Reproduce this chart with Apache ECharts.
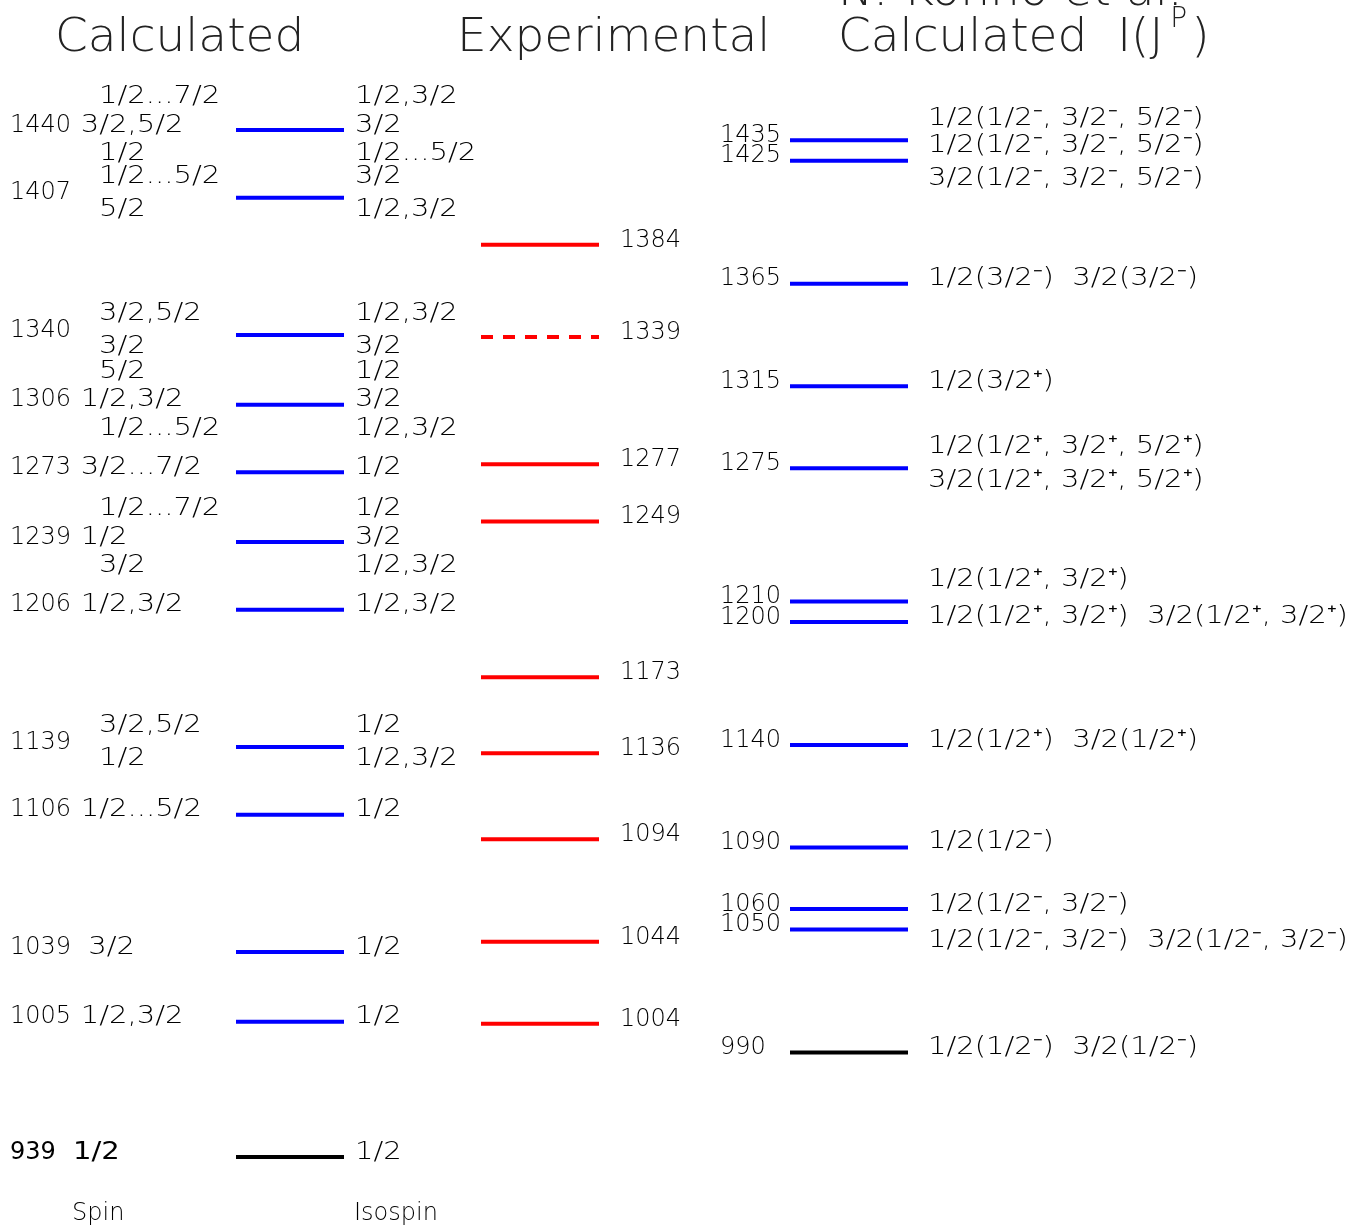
<!DOCTYPE html>
<html>
<head>
<meta charset="utf-8">
<script src="https://cdn.jsdelivr.net/npm/echarts@6/dist/echarts.min.js"></script>
<style>
html,body{margin:0;padding:0;background:#fff;}
#c{width:1362px;height:1226px;}
</style>
</head>
<body>
<div id="c"></div>
<script>
// ---------------- DATA ----------------
// Calculated levels (MeV) with spin and isospin labels (listed top to bottom)
const calcLevels = [939, 1005, 1039, 1106, 1139, 1206, 1239, 1273, 1306, 1340, 1407, 1440];
const calcSpin = [
  ['1/2'], ['1/2,3/2'], ['3/2'], ['1/2...5/2'], ['3/2,5/2', '1/2'], ['1/2,3/2'],
  ['1/2...7/2', '1/2', '3/2'], ['3/2...7/2'], ['5/2', '1/2,3/2', '1/2...5/2'],
  ['3/2,5/2', '3/2'], ['1/2...5/2', '5/2'], ['1/2...7/2', '3/2,5/2', '1/2']
];
const calcIsospin = [
  ['1/2'], ['1/2'], ['1/2'], ['1/2'], ['1/2', '1/2,3/2'], ['1/2,3/2'],
  ['1/2', '3/2', '1/2,3/2'], ['1/2'], ['1/2', '3/2', '1/2,3/2'],
  ['1/2,3/2', '3/2'], ['3/2', '1/2,3/2'], ['1/2,3/2', '3/2', '1/2...5/2']
];
const calcGround = 939;
const calcWideGap = [939, 1039];   // levels printed with a double space before the spin

// Experimental levels (MeV)
const expLevels = [1004, 1044, 1094, 1136, 1173, 1249, 1277, 1339, 1384];
const expTentative = [1339];        // drawn dashed

// N. Konno et al. calculated levels (MeV) and I(J^P) labels
const konnoLevels = [990, 1050, 1060, 1090, 1140, 1200, 1210, 1275, 1315, 1365, 1425, 1435];
const konnoGround = 990;
const konnoLabelText = [
  '1/2(1/2\u207B, 3/2\u207B, 5/2\u207B)',
  '1/2(1/2\u207B, 3/2\u207B, 5/2\u207B)',
  '3/2(1/2\u207B, 3/2\u207B, 5/2\u207B)',
  '1/2(3/2\u207B)  3/2(3/2\u207B)',
  '1/2(3/2\u207A)',
  '1/2(1/2\u207A, 3/2\u207A, 5/2\u207A)',
  '3/2(1/2\u207A, 3/2\u207A, 5/2\u207A)',
  '1/2(1/2\u207A, 3/2\u207A)',
  '1/2(1/2\u207A, 3/2\u207A)  3/2(1/2\u207A, 3/2\u207A)',
  '1/2(1/2\u207A)  3/2(1/2\u207A)',
  '1/2(1/2\u207B)',
  '1/2(1/2\u207B, 3/2\u207B)',
  '1/2(1/2\u207B, 3/2\u207B)  3/2(1/2\u207B, 3/2\u207B)',
  '1/2(1/2\u207B)  3/2(1/2\u207B)'
];
const konnoLabelLevel = [1435, 1425, 1425, 1365, 1315, 1275, 1275, 1210, 1200, 1140, 1090, 1060, 1050, 990];

const titleTexts = ['Calculated', 'Experimental', 'Calculated  I(J', 'P', ')', 'N. Konno et al.'];
const footTexts = ['Spin', 'Isospin'];

// ---------------- LAYOUT ----------------
const L = {
  calc: {x0: 236, x1: 344, numX: 10, spinX: 99, isoX: 355},
  exp: {x0: 481, x1: 599, numX: 620},
  konno: {x0: 790, x1: 908, numX: 720, labX: 928},
  textDy: -4.5,        // text centre relative to level line
  row3: 28.5,          // spacing for three stacked labels
  row2: 16.5,          // half spacing for two stacked labels
  konnoLabelDy: [-21.5, -14.5, 18.5, -4.5, -4.5, -21, 12.5, -21.5, -5.5, -4.5, -5.5, -4.5, 11.5, -4.5],
  lineWidth: 4,
  fracScale: 1.21
};
const FONT = '"DejaVu Sans ExtraLight", "DejaVu Sans", sans-serif';
const BOLDFONT = '"DejaVu Sans", sans-serif';
const THIN = '"DejaVu Sans ExtraLight", "DejaVu Sans", sans-serif';
const TXT = '#000000';
const BLUE = '#0000ff', RED = '#ff0000', BLACK = '#000000';

const measureCtx = document.createElement('canvas').getContext('2d');
function measure(text, size, family, weight) {
  measureCtx.font = (weight || 'normal') + ' ' + size + 'px ' + family;
  return measureCtx.measureText(text).width;
}

function txt(x, y, text, o) {
  o = o || {};
  return {
    type: 'text', x: x, y: y, scaleX: o.sx || 1,
    style: {
      text: text, fill: o.color || TXT, fontSize: o.size || 24,
      fontFamily: o.family || FONT, fontWeight: o.weight || 200,
      align: 'left', verticalAlign: 'middle'
    }
  };
}
function lineEl(a, b, color, dashed) {
  return {
    type: 'line',
    shape: {x1: a[0], y1: a[1], x2: b[0], y2: b[1]},
    style: {stroke: color, lineWidth: L.lineWidth, lineDash: dashed ? [12, 10] : null}
  };
}
function stackDy(n) {
  if (n === 1) return [0];
  if (n === 2) return [-L.row2, L.row2];
  return [-L.row3, 0, L.row3];
}

const calcSeries = {
  type: 'custom', coordinateSystem: 'cartesian2d', silent: true,
  data: calcLevels.map(function (v) { return [L.calc.x0, v, L.calc.x1]; }),
  encode: {x: [0, 2], y: 1},
  renderItem: function (params, api) {
    const i = params.dataIndex;
    const v = api.value(1);
    const a = api.coord([api.value(0), v]);
    const b = api.coord([api.value(2), v]);
    const ground = v === calcGround;
    const ch = [lineEl(a, b, ground ? BLACK : BLUE, false)];
    const cy = a[1] + L.textDy;
    const numText = String(v);
    const fam = ground ? BOLDFONT : FONT;
    const wt = ground ? 'normal' : 200;
    ch.push(txt(L.calc.numX, cy, numText, {family: fam, weight: wt}));
    const spins = calcSpin[i];
    const dys = stackDy(spins.length);
    const gap = calcWideGap.indexOf(v) >= 0 ? '  ' : ' ';
    const mainX = L.calc.numX + measure(numText + gap, 24, fam, wt) + 2;
    spins.forEach(function (s, k) {
      const isMain = spins.length !== 2 && dys[k] === 0;
      ch.push(txt(isMain ? mainX : L.calc.spinX, cy + dys[k], s,
        {sx: L.fracScale, family: isMain ? fam : FONT, weight: isMain ? wt : 200}));
    });
    const isos = calcIsospin[i];
    const dyi = stackDy(isos.length);
    isos.forEach(function (s, k) {
      ch.push(txt(L.calc.isoX, cy + dyi[k], s, {sx: L.fracScale}));
    });
    return {type: 'group', children: ch};
  }
};

const expSeries = {
  type: 'custom', coordinateSystem: 'cartesian2d', silent: true,
  data: expLevels.map(function (v) { return [L.exp.x0, v, L.exp.x1]; }),
  encode: {x: [0, 2], y: 1},
  renderItem: function (params, api) {
    const v = api.value(1);
    const a = api.coord([api.value(0), v]);
    const b = api.coord([api.value(2), v]);
    return {type: 'group', children: [
      lineEl(a, b, RED, expTentative.indexOf(v) >= 0),
      txt(L.exp.numX, a[1] + L.textDy, String(v))
    ]};
  }
};

const konnoSeries = {
  type: 'custom', coordinateSystem: 'cartesian2d', silent: true,
  data: konnoLevels.map(function (v) { return [L.konno.x0, v, L.konno.x1]; }),
  encode: {x: [0, 2], y: 1},
  renderItem: function (params, api) {
    const v = api.value(1);
    const a = api.coord([api.value(0), v]);
    const b = api.coord([api.value(2), v]);
    return {type: 'group', children: [
      lineEl(a, b, v === konnoGround ? BLACK : BLUE, false),
      txt(L.konno.numX, a[1] + L.textDy, String(v))
    ]};
  }
};

const konnoLabelSeries = {
  type: 'custom', coordinateSystem: 'cartesian2d', silent: true,
  data: konnoLabelLevel.map(function (v) { return [L.konno.labX, v]; }),
  encode: {x: 0, y: 1},
  renderItem: function (params, api) {
    const i = params.dataIndex;
    const p = api.coord([api.value(0), api.value(1)]);
    return txt(p[0], p[1] + L.konnoLabelDy[i], konnoLabelText[i], {sx: L.fracScale});
  }
};

// titles
const TS = 47;
const t3x = 838;
const w3 = measure(titleTexts[2], TS, THIN, 200);
const pX = t3x + w3 + 7;
const wP = measure(titleTexts[3], 28, THIN, 200);
const titleColor = '#222';
function title(x, y, text, size) {
  return {type: 'text', x: x, y: y, style: {text: text, fill: titleColor, fontSize: size, fontFamily: THIN, fontWeight: 200, verticalAlign: 'middle'}};
}
const graphic = [
  title(55, 39, titleTexts[0], TS),
  title(457, 39, titleTexts[1], TS),
  title(t3x, 39, titleTexts[2], TS),
  title(pX, 20, titleTexts[3], 28),
  title(pX + wP + 4, 39, titleTexts[4], TS),
  title(t3x, -7, titleTexts[5], TS),
  {type: 'text', x: 72, y: 1214, style: {text: footTexts[0], fill: TXT, fontSize: 24, fontFamily: FONT, fontWeight: 200, verticalAlign: 'middle'}},
  {type: 'text', x: 354, y: 1214, style: {text: footTexts[1], fill: TXT, fontSize: 24, fontFamily: FONT, fontWeight: 200, verticalAlign: 'middle'}}
];

const chart = echarts.init(document.getElementById('c'), null, {renderer: 'canvas'});
chart.setOption({
  animation: false,
  backgroundColor: '#ffffff',
  grid: {left: 0, right: 0, top: 7, height: 1189, containLabel: false},
  xAxis: {type: 'value', min: 0, max: 1362, show: false},
  yAxis: {type: 'value', min: 920, max: 1500, show: false},
  graphic: graphic,
  series: [calcSeries, expSeries, konnoSeries, konnoLabelSeries]
});
</script>
</body>
</html>
